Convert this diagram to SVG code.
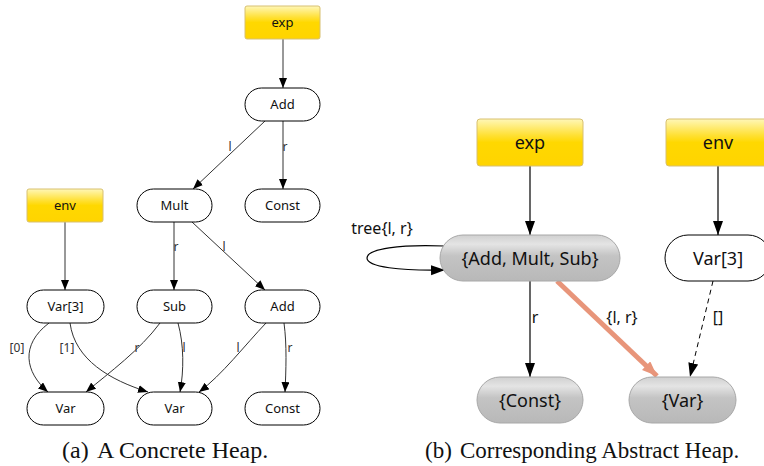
<svg xmlns="http://www.w3.org/2000/svg" width="764" height="466" viewBox="0 0 764 466">
<defs>
<linearGradient id="yel" x1="0" y1="0" x2="0" y2="1">
<stop offset="0" stop-color="#fff7b8"/>
<stop offset="0.35" stop-color="#ffe033"/>
<stop offset="0.5" stop-color="#ffd800"/>
<stop offset="1" stop-color="#ffd400"/>
</linearGradient>
<linearGradient id="gry" x1="0" y1="0" x2="0" y2="1">
<stop offset="0" stop-color="#d0d0d0"/>
<stop offset="0.2" stop-color="#e4e4e4"/>
<stop offset="0.45" stop-color="#c4c4c4"/>
<stop offset="1" stop-color="#b8b8b8"/>
</linearGradient>
<marker id="a1" markerUnits="userSpaceOnUse" markerWidth="11" markerHeight="9" refX="10" refY="4" orient="auto">
<path d="M0,0 L10,4 L0,8 z" fill="#000"/>
</marker>
<marker id="a2" markerUnits="userSpaceOnUse" markerWidth="15" markerHeight="11" refX="14" refY="5" orient="auto">
<path d="M0,0 L14,5 L0,10 z" fill="#000"/>
</marker>
<marker id="a3" markerUnits="userSpaceOnUse" markerWidth="16" markerHeight="13" refX="15" refY="6" orient="auto">
<path d="M0,0 L15,6 L0,12 z" fill="#e8957a"/>
</marker>
</defs>
<style>
.box{fill:url(#yel);stroke:#d8c070;stroke-width:1}
.wn{fill:#fff;stroke:#000;stroke-width:1}
.gn{fill:url(#gry);stroke:#a8a8a8;stroke-width:1}
.t1{font-family:"Noto Sans","Open Sans",sans-serif;font-size:13px;fill:#111;text-anchor:middle}
.t2{font-family:"Noto Sans","Open Sans",sans-serif;font-size:18px;fill:#111;text-anchor:middle}
.l1{font-family:"Noto Sans","Open Sans",sans-serif;font-size:12px;fill:#333;text-anchor:middle}
.l2{font-family:"Noto Sans","Open Sans",sans-serif;font-size:16px;fill:#111;text-anchor:middle}
.cap{font-family:"Liberation Serif","Times New Roman",serif;font-size:24px;fill:#111}
.capb{font-family:"Liberation Serif","Times New Roman",serif;font-size:23px;fill:#111}
.e1{fill:none;stroke:#333;stroke-width:1;marker-end:url(#a1)}
.e2{fill:none;stroke:#000;stroke-width:1.2;marker-end:url(#a2)}
</style>

<g id="edges">
<path class="e1" d="M283,39 L283,88"/>
<path class="e1" d="M265,121 L193,189"/>
<path class="e1" d="M283,121 L283,189"/>
<path class="e1" d="M65,222 L65,290"/>
<path class="e1" d="M174,222 L174,290"/>
<path class="e1" d="M192,222 L265,290"/>
<path class="e1" d="M49,323 C20,345 25,372 48,392"/>
<path class="e1" d="M70,323 C75,360 110,380 148,392"/>
<path class="e1" d="M160,323 C140,350 110,372 86,392"/>
<path class="e1" d="M178,323 C184,345 184,370 180,392"/>
<path class="e1" d="M266,323 C245,345 222,375 199,392"/>
<path class="e1" d="M284,323 C287,345 286,370 285,392"/>
<path class="e2" d="M530,166 L530,235"/>
<path class="e2" d="M718,166 L718,235"/>
<path class="e2" d="M445,246 C400,244 367,249 367,258 C367,267 400,271 445,270"/>
<path class="e2" d="M530,281 L530,377"/>
<path fill="none" stroke="#e8957a" stroke-width="5" marker-end="url(#a3)" d="M557,281 L657,376"/>
<path fill="none" stroke="#000" stroke-width="1" stroke-dasharray="5,4" marker-end="url(#a2)" d="M713,281 L690,377"/>
<g id="edge-labels">
<text class="l1" x="230" y="151">l</text>
<text class="l1" x="285" y="151">r</text>
<text class="l1" x="176" y="251">r</text>
<text class="l1" x="224" y="251">l</text>
<text class="l1" x="17" y="352">[0]</text>
<text class="l1" x="67" y="352">[1]</text>
<text class="l1" x="137" y="352">r</text>
<text class="l1" x="184" y="352">l</text>
<text class="l1" x="238" y="352">l</text>
<text class="l1" x="290" y="352">r</text>
<text class="l2" x="382" y="234">tree{l, r}</text>
<text class="l2" x="535" y="323">r</text>
<text class="l2" x="622" y="323">{l, r}</text>
<text class="l2" x="718" y="323">[]</text>
</g>
</g>

<g id="a-exp"><rect class="box" x="245" y="6" width="75" height="33" rx="2"/><text class="t1" x="282.5" y="27">exp</text></g>
<g id="a-add"><rect class="wn" x="245" y="88" width="75" height="33" rx="16.5"/><text class="t1" x="282.5" y="109">Add</text></g>
<g id="a-mult"><rect class="wn" x="137" y="189" width="75" height="33" rx="16.5"/><text class="t1" x="174.5" y="210">Mult</text></g>
<g id="a-const1"><rect class="wn" x="245" y="189" width="75" height="33" rx="16.5"/><text class="t1" x="282.5" y="210">Const</text></g>
<g id="a-env"><rect class="box" x="27" y="189" width="76" height="33" rx="2"/><text class="t1" x="65" y="210">env</text></g>
<g id="a-var3"><rect class="wn" x="27" y="290" width="77" height="33" rx="16.5"/><text class="t1" x="65.5" y="311">Var[3]</text></g>
<g id="a-sub"><rect class="wn" x="137" y="290" width="75" height="33" rx="16.5"/><text class="t1" x="174.5" y="311">Sub</text></g>
<g id="a-add2"><rect class="wn" x="245" y="290" width="75" height="33" rx="16.5"/><text class="t1" x="282.5" y="311">Add</text></g>
<g id="a-var1"><rect class="wn" x="27" y="392" width="77" height="33" rx="16.5"/><text class="t1" x="65.5" y="413">Var</text></g>
<g id="a-var2"><rect class="wn" x="137" y="392" width="75" height="33" rx="16.5"/><text class="t1" x="174.5" y="413">Var</text></g>
<g id="a-const2"><rect class="wn" x="245" y="392" width="75" height="33" rx="16.5"/><text class="t1" x="282.5" y="413">Const</text></g>

<g id="b-exp"><rect class="box" x="477" y="119" width="106" height="47" rx="3"/><text class="t2" x="530" y="149">exp</text></g>
<g id="b-env"><rect class="box" x="666" y="119" width="106" height="47" rx="3"/><text class="t2" x="718" y="149">env</text></g>
<g id="b-ams"><rect class="gn" x="440" y="235" width="180" height="46" rx="23"/><text class="t2" x="530" y="264.5">{Add, Mult, Sub}</text></g>
<g id="b-var3"><rect class="wn" x="665" y="235" width="106" height="46" rx="23"/><text class="t2" x="718" y="264.5">Var[3]</text></g>
<g id="b-const"><rect class="gn" x="477" y="377" width="106" height="46" rx="23"/><text class="t2" x="530" y="406.5">{Const}</text></g>
<g id="b-var"><rect class="gn" x="629" y="377" width="107" height="46" rx="23"/><text class="t2" x="682.5" y="406.5">{Var}</text></g>

<text class="cap" x="62" y="458">(a)</text>
<text class="cap" x="97" y="458">A Concrete Heap.</text>
<text class="capb" x="425" y="458">(b)</text>
<text class="capb" x="460" y="458">Corresponding Abstract Heap.</text>
</svg>
